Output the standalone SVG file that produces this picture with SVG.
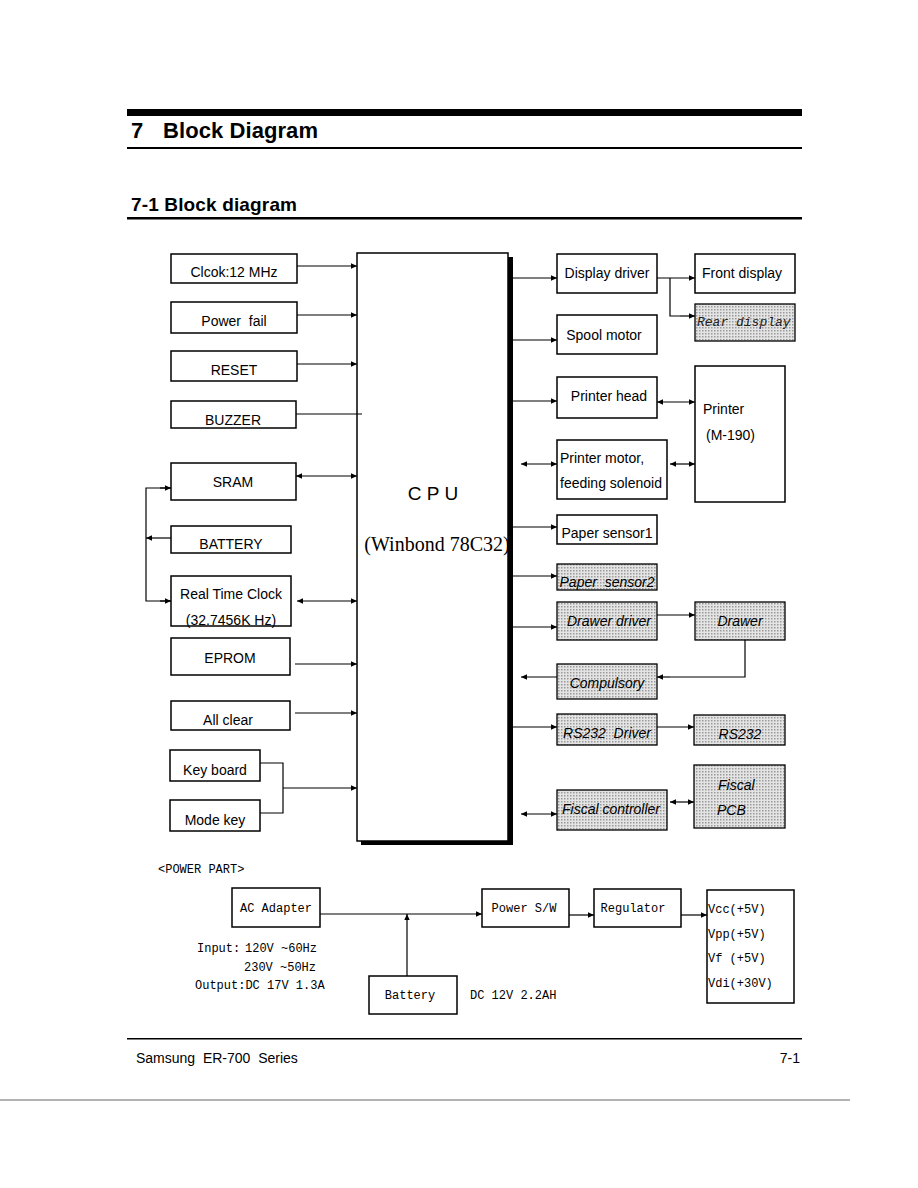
<svg xmlns="http://www.w3.org/2000/svg" width="918" height="1188" viewBox="0 0 918 1188">
<defs>
<marker id="ah" viewBox="0 0 10 10" refX="10" refY="5" markerWidth="7" markerHeight="6" markerUnits="userSpaceOnUse" orient="auto-start-reverse"><path d="M0,0.5 L10,5 L0,9.5z" fill="#000"/></marker>
<pattern id="dots" width="3" height="3" patternUnits="userSpaceOnUse"><rect width="3" height="3" fill="#e4e4e4"/><rect width="1.5" height="1.5" fill="#9a9a9a"/></pattern>
</defs>
<style>
text{white-space:pre}
.bx{fill:#fff;stroke:#000;stroke-width:1.5}
.sh{fill:url(#dots);stroke:#000;stroke-width:1.3}
.t{font-family:"Liberation Sans",Arial,sans-serif;font-size:14px;fill:#000}
.ti{font-family:"Liberation Sans",Arial,sans-serif;font-size:14px;font-style:italic;fill:#000}
.m{font-family:"Liberation Mono","DejaVu Sans Mono",monospace;font-size:12px;fill:#000}
.h{font-family:"Liberation Sans",Arial,sans-serif;font-weight:bold;fill:#000}
.c{stroke:#000;stroke-width:1.2;fill:none}
.a{stroke:#000;stroke-width:1.2;fill:none;marker-end:url(#ah)}
.b{stroke:#000;stroke-width:1.2;fill:none;marker-end:url(#ah);marker-start:url(#ah)}
.mid{text-anchor:middle}
</style>
<rect width="918" height="1188" fill="#fff"/>
<g id="header">
<rect x="127" y="109" width="675" height="7" fill="#000"/>
<text x="131" y="138" class="h" style="font-size:22px">7</text>
<text x="163" y="138" class="h" style="font-size:22px" textLength="155">Block Diagram</text>
<rect x="127" y="147" width="675" height="2" fill="#000"/>
<text x="131" y="211" class="h" style="font-size:19px" textLength="166">7-1 Block diagram</text>
<rect x="127" y="217" width="675" height="2.5" fill="#000"/>
</g>
<g id="cpu">
<rect x="508" y="257" width="5" height="588" fill="#000"/>
<rect x="361" y="841" width="152" height="4" fill="#000"/>
<rect x="357" y="253" width="151" height="588" class="bx" stroke-width="1.2"/>
<text x="433" y="500" class="t mid" style="font-size:19px">C P U</text>
<text x="437" y="551" class="mid" style="font-family:'Liberation Serif','Times New Roman',serif;font-size:20px">(Winbond 78C32)</text>
</g>
<g id="n-clock"><rect x="171" y="254" width="126" height="29" class="bx"/><text x="234" y="277" class="t mid">Clcok:12 MHz</text></g>
<g id="n-powerfail"><rect x="171" y="302" width="126" height="31" class="bx"/><text x="234" y="326" class="t mid">Power  fail</text></g>
<g id="n-reset"><rect x="171" y="351" width="126" height="30" class="bx"/><text x="234" y="375" class="t mid">RESET</text></g>
<g id="n-buzzer"><rect x="171" y="401" width="125" height="27" class="bx"/><text x="233" y="425" class="t mid">BUZZER</text></g>
<g id="n-sram"><rect x="171" y="463" width="125" height="37" class="bx"/><text x="233" y="487" class="t mid">SRAM</text></g>
<g id="n-battery"><rect x="171" y="526" width="120" height="27" class="bx"/><text x="231" y="549" class="t mid">BATTERY</text></g>
<g id="n-rtc"><rect x="171" y="576" width="120" height="50" class="bx"/><text x="231" y="599" class="t mid">Real Time Clock</text><text x="231" y="625" class="t mid">(32.7456K Hz)</text></g>
<g id="n-eprom"><rect x="171" y="638" width="119" height="37" class="bx"/><text x="230" y="663" class="t mid">EPROM</text></g>
<g id="n-allclear"><rect x="171" y="701" width="119" height="29" class="bx"/><text x="228" y="725" class="t mid">All clear</text></g>
<g id="n-keyboard"><rect x="170" y="750" width="90" height="31" class="bx"/><text x="215" y="775" class="t mid">Key board</text></g>
<g id="n-modekey"><rect x="170" y="800" width="90" height="31" class="bx"/><text x="215" y="825" class="t mid">Mode key</text></g>
<g id="n-displaydriver"><rect x="557" y="254" width="100" height="39" class="bx"/><text x="607" y="278" class="t mid">Display driver</text></g>
<g id="n-frontdisplay"><rect x="695" y="254" width="100" height="39" class="bx"/><text x="742" y="278" class="t mid">Front display</text></g>
<g id="n-reardisplay"><rect x="695" y="304" width="100" height="37" class="sh"/><text x="697" y="326" style="font-family:'Liberation Mono',monospace;font-size:13px;font-style:italic;fill:#222">Rear display</text></g>
<g id="n-spool"><rect x="557" y="315" width="100" height="39" class="bx"/><text x="604" y="340" class="t mid">Spool motor</text></g>
<g id="n-printerhead"><rect x="557" y="377" width="100" height="41" class="bx"/><text x="609" y="401" class="t mid">Printer head</text></g>
<g id="n-printer"><rect x="695" y="366" width="90" height="136" class="bx"/><text x="703" y="414" class="t">Printer</text><text x="706" y="440" class="t">(M-190)</text></g>
<g id="n-printermotor"><rect x="557" y="440" width="110" height="59" class="bx"/><text x="560" y="463" class="t">Printer motor,</text><text x="560" y="488" class="t">feeding solenoid</text></g>
<g id="n-papersensor1"><rect x="557" y="515" width="100" height="29" class="bx"/><text x="607" y="538" class="t mid">Paper sensor1</text></g>
<g id="n-papersensor2"><rect x="557" y="564" width="100" height="26" class="sh"/><text x="607" y="587" class="ti mid">Paper  sensor2</text></g>
<g id="n-drawerdriver"><rect x="557" y="602" width="100" height="38" class="sh"/><text x="609" y="626" class="ti mid">Drawer driver</text></g>
<g id="n-drawer"><rect x="695" y="602" width="90" height="38" class="sh"/><text x="740" y="626" class="ti mid">Drawer</text></g>
<g id="n-compulsory"><rect x="557" y="664" width="100" height="35" class="sh"/><text x="607" y="688" class="ti mid">Compulsory</text></g>
<g id="n-rs232driver"><rect x="557" y="714" width="100" height="31" class="sh"/><text x="607" y="738" class="ti mid">RS232  Driver</text></g>
<g id="n-rs232"><rect x="694" y="715" width="91" height="30" class="sh"/><text x="740" y="739" class="ti mid">RS232</text></g>
<g id="n-fiscalctrl"><rect x="557" y="790" width="110" height="40" class="sh"/><text x="611" y="814" class="ti mid">Fiscal controller</text></g>
<g id="n-fiscalpcb"><rect x="694" y="765" width="91" height="63" class="sh"/><text x="718" y="790" class="ti">Fiscal</text><text x="717" y="815" class="ti">PCB</text></g>
<g id="power">
<text x="158" y="873" class="m">&lt;POWER PART&gt;</text>
<g id="n-acadapter"><rect x="232" y="888" width="88" height="39" class="bx"/><text x="276" y="912" class="m mid">AC Adapter</text></g>
<g id="n-battery2"><rect x="369" y="976" width="88" height="38" class="bx"/><text x="410" y="999" class="m mid">Battery</text></g>
<g id="n-powersw"><rect x="482" y="889" width="87" height="38" class="bx"/><text x="524" y="912" class="m mid">Power S/W</text></g>
<g id="n-regulator"><rect x="594" y="889" width="87" height="38" class="bx"/><text x="633" y="912" class="m mid">Regulator</text></g>
<g id="n-voltages"><rect x="707" y="890" width="87" height="113" class="bx"/><text x="708" y="913" class="m">Vcc(+5V)</text><text x="708" y="938" class="m">Vpp(+5V)</text><text x="708" y="962" class="m">Vf (+5V)</text><text x="708" y="987" class="m">Vdi(+30V)</text></g>
<text x="197" y="952" class="m">Input:</text>
<text x="245" y="952" class="m">120V ~60Hz</text>
<text x="244" y="971" class="m">230V ~50Hz</text>
<text x="195" y="989" class="m">Output:DC 17V 1.3A</text>
<text x="470" y="999" class="m">DC 12V 2.2AH</text>
</g>
<g id="connectors">
<line x1="297" y1="266" x2="357" y2="266" class="a"/>
<line x1="297" y1="315" x2="357" y2="315" class="a"/>
<line x1="297" y1="364" x2="357" y2="364" class="a"/>
<line x1="296" y1="414" x2="362" y2="414" class="c"/>
<line x1="296" y1="476" x2="357" y2="476" class="b"/>
<line x1="171" y1="538" x2="146" y2="538" class="a"/>
<polyline points="171,488 146,488 146,601 171,601" class="c"/>
<line x1="160" y1="488" x2="171" y2="488" class="a"/>
<line x1="160" y1="601" x2="171" y2="601" class="a"/>
<line x1="297" y1="601" x2="357" y2="601" class="b"/>
<line x1="295" y1="664" x2="357" y2="664" class="a"/>
<line x1="295" y1="713" x2="357" y2="713" class="a"/>
<polyline points="260,763 283,763 283,813 260,813" class="c"/>
<line x1="283" y1="788" x2="357" y2="788" class="a"/>
<line x1="513" y1="278" x2="557" y2="278" class="a"/>
<line x1="657" y1="278" x2="695" y2="278" class="a"/>
<polyline points="670,278 670,316 680,316" class="c"/>
<line x1="680" y1="316" x2="695" y2="316" class="a"/>
<line x1="513" y1="340" x2="557" y2="340" class="a"/>
<line x1="513" y1="401" x2="557" y2="401" class="a"/>
<line x1="657" y1="402" x2="695" y2="402" class="b"/>
<line x1="521" y1="464" x2="557" y2="464" class="b"/>
<line x1="670" y1="464" x2="695" y2="464" class="b"/>
<line x1="513" y1="527" x2="557" y2="527" class="a"/>
<line x1="513" y1="576" x2="557" y2="576" class="a"/>
<line x1="513" y1="627" x2="557" y2="627" class="a"/>
<line x1="657" y1="615" x2="695" y2="615" class="a"/>
<polyline points="745,640 745,677 670,677" class="c"/>
<line x1="670" y1="677" x2="657" y2="677" class="a"/>
<line x1="557" y1="677" x2="521" y2="677" class="a"/>
<line x1="513" y1="727" x2="557" y2="727" class="a"/>
<line x1="657" y1="727" x2="694" y2="727" class="a"/>
<line x1="521" y1="814" x2="557" y2="814" class="b"/>
<line x1="670" y1="802" x2="694" y2="802" class="b"/>
<line x1="320" y1="914" x2="482" y2="914" class="a"/>
<line x1="407" y1="976" x2="407" y2="914" class="a"/>
<line x1="569" y1="915" x2="594" y2="915" class="a"/>
<line x1="681" y1="915" x2="707" y2="915" class="a"/>
</g>
<g id="footer">
<rect x="127" y="1038" width="675" height="1.5" fill="#000"/>
<text x="136" y="1063" class="t">Samsung  ER-700  Series</text>
<text x="800" y="1063" class="t" text-anchor="end">7-1</text>
<line x1="0" y1="1100" x2="850" y2="1100" stroke="#666" stroke-width="1"/>
</g>
</svg>
